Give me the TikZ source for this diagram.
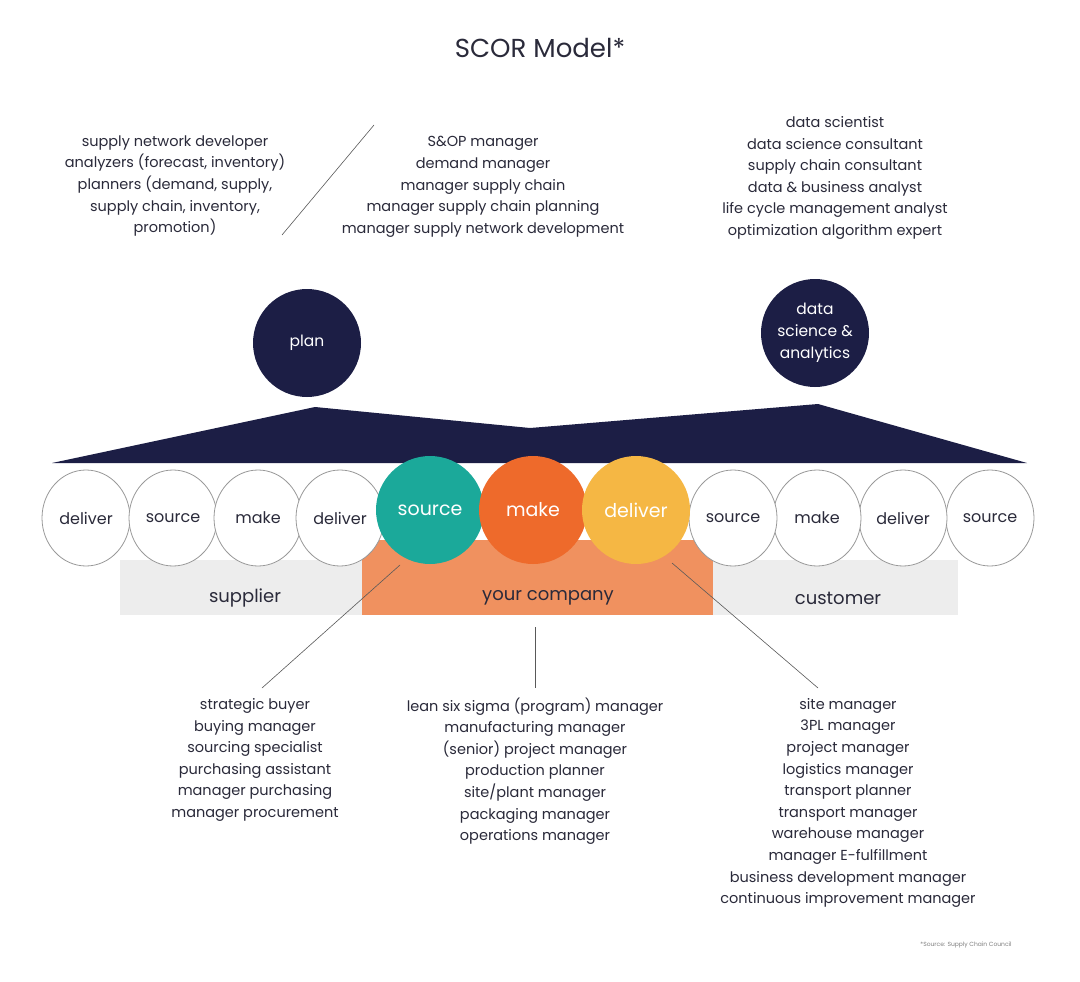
\documentclass[tikz,border=0pt]{standalone}
\usepackage{fontspec}
\setmainfont{Poppins}
\usetikzlibrary{shapes.geometric}
\definecolor{navy}{HTML}{1C1E45}
\definecolor{teal}{HTML}{1BA99A}
\definecolor{orng}{HTML}{EE6A2B}
\definecolor{yell}{HTML}{F5B744}
\definecolor{band}{HTML}{EDEDED}
\definecolor{comp}{HTML}{F0915F}
\definecolor{txt}{HTML}{2A2A3A}
\begin{document}
\begin{tikzpicture}[x=1pt,y=-1pt,
  lst/.style={align=center,font=\fontsize{14.5}{21.6}\selectfont,text=txt,inner sep=0pt},
  wc/.style={ellipse,draw=gray!80,line width=0.8pt,fill=white,minimum width=88pt,minimum height=96pt,font=\fontsize{16}{18}\selectfont,text=txt,inner sep=0pt},
  cc/.style={circle,minimum size=108pt,font=\fontsize{19}{20}\selectfont,text=white,inner sep=0pt},
  dc/.style={circle,fill=navy,minimum size=108pt,font=\fontsize{15.5}{22}\selectfont,text=white,align=center,inner sep=0pt},
  ln/.style={draw=gray!70!black,line width=0.6pt},
  bl/.style={font=\fontsize{18}{20}\selectfont,text=txt}]
\useasboundingbox[fill=white] (0,0) rectangle (1080,982);
\node[font=\fontsize{26}{30}\selectfont,text=txt] (title) at (540,48) {SCOR Model*};
\node[lst] (t1) at (175,186) {supply network developer\\analyzers (forecast, inventory)\\planners (demand, supply,\\supply chain, inventory,\\promotion)};
\node[lst] (t2) at (483,187) {S\&OP manager\\demand manager\\manager supply chain\\manager supply chain planning\\manager supply network development};
\node[lst] (t3) at (835,178) {data scientist\\data science consultant\\supply chain consultant\\data \& business analyst\\life cycle management analyst\\optimization algorithm expert};
\coordinate (s1) at (374,125); \coordinate (s2) at (282,235);
\draw[ln] (s1) -- (s2);
\node[dc] (plan) at (307,343) {plan};
\node[dc] (dsa) at (815,333) {data\\science \&\\analytics};
\fill[navy] (52,463) -- (315,407) -- (530,428) -- (818,404) -- (1027,463) -- cycle;
\fill[band] (120,560) rectangle (380,615);
\fill[band] (700,560) rectangle (958,615);
\fill[comp] (362,540) rectangle (713,615);
\node[bl] (sup) at (245,598) {supplier};
\node[bl] (yc) at (548,598) {your company};
\node[bl] (cus) at (838,598) {customer};
\node[wc] (w1) at (86,518) {deliver};
\node[wc] (w2) at (173,518) {source};
\node[wc] (w3) at (258,518) {make};
\node[wc] (w4) at (340,518) {deliver};
\node[wc] (w8) at (990,518) {source};
\node[wc] (w7) at (903,518) {deliver};
\node[wc] (w6) at (817,518) {make};
\node[wc] (w5) at (733,518) {source};
\node[cc,fill=teal] (cs) at (430,510) {source};
\node[cc,fill=orng] (cm) at (533,510) {make};
\node[cc,fill=yell] (cd) at (636,510) {deliver};
\node[lst] (b1) at (255,760) {strategic buyer\\buying manager\\sourcing specialist\\purchasing assistant\\manager purchasing\\manager procurement};
\node[lst] (b2) at (535,771) {lean six sigma (program) manager\\manufacturing manager\\(senior) project manager\\production planner\\site/plant manager\\packaging manager\\operations manager};
\node[lst] (b3) at (848,803) {site manager\\3PL manager\\project manager\\logistics manager\\transport planner\\transport manager\\warehouse manager\\manager E-fulfillment\\business development manager\\continuous improvement manager};
\coordinate (l1) at (400,565); \coordinate (l1e) at (262,688);
\coordinate (l2) at (535,627); \coordinate (l2e) at (535,688);
\coordinate (l3) at (672,563); \coordinate (l3e) at (818,688);
\draw[ln] (l1) -- (l1e); \draw[ln] (l2) -- (l2e); \draw[ln] (l3) -- (l3e);
\node[font=\fontsize{6}{7}\selectfont,text=gray] (src) at (966,945) {*Source: Supply Chain Council};
\end{tikzpicture}
\end{document}
